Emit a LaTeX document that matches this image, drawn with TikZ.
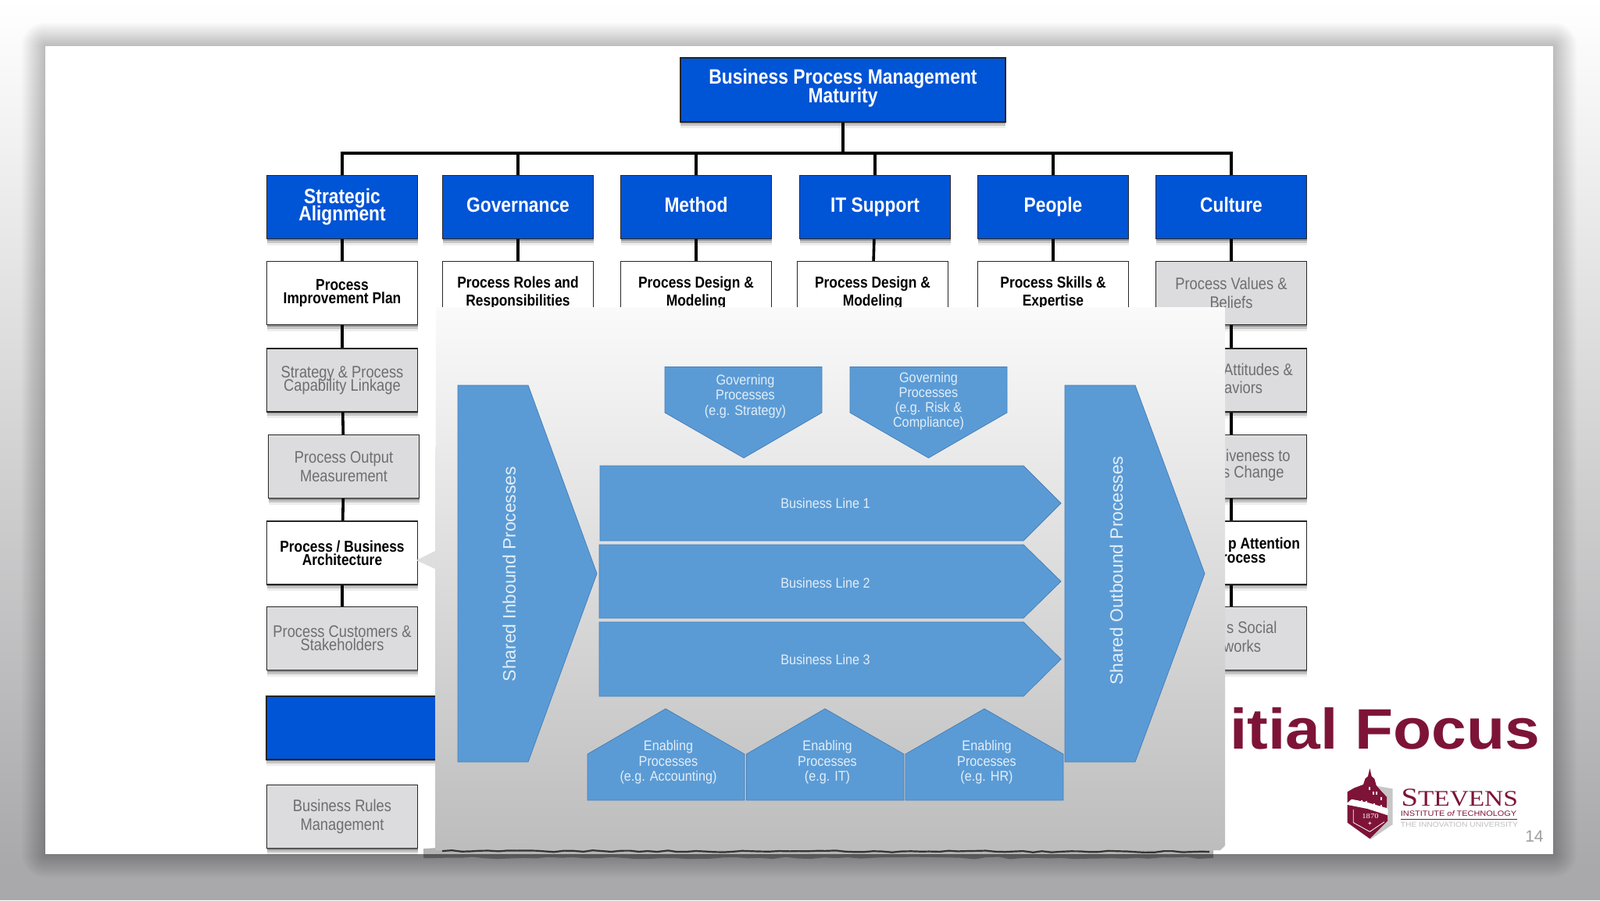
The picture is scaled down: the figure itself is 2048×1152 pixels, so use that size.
\documentclass[tikz,border=0pt]{standalone}
\usepackage{fontspec}
\usetikzlibrary{shadows,decorations.pathmorphing}
\setmainfont{Liberation Sans}
\newfontfamily\narrowfont[FakeStretch=.86]{Liberation Sans}
\newfontfamily\panelfont[FakeStretch=.9]{Liberation Sans}
\newfontfamily\focusfont[FakeStretch=1.1]{Liberation Sans}
\newfontfamily\logofont[FakeStretch=1.17]{Liberation Serif}
\newfontfamily\logosans[FakeStretch=1.14]{Liberation Sans}
\lineskiplimit=-20pt
\definecolor{boxblue}{RGB}{0,84,214}
\definecolor{shapeblue}{RGB}{91,155,213}
\definecolor{shapeedge}{RGB}{70,128,186}
\definecolor{boxgray}{RGB}{220,220,222}
\definecolor{fadedtext}{RGB}{110,110,112}
\definecolor{paneltext}{RGB}{226,238,248}
\definecolor{maroon}{RGB}{125,20,56}
\definecolor{backgray}{RGB}{169,169,171}
\tikzset{
  softshadow/.style={drop shadow={shadow xshift=0pt,shadow yshift=-2pt,fill=black,opacity=.28},
    drop shadow={shadow xshift=0pt,shadow yshift=-5pt,fill=black,opacity=.16},
    drop shadow={shadow xshift=0pt,shadow yshift=-8pt,fill=black,opacity=.07}},
  basebox/.style={draw=black!85,line width=1.4pt,minimum width=193pt,minimum height=81pt,inner sep=0pt,align=center,softshadow},
  bluebox/.style={basebox,fill=boxblue,text=white,font=\narrowfont\bfseries\fontsize{26.5}{22}\selectfont},
  oneline/.style={text height=18pt,text depth=5.5pt},
  whitebox/.style={basebox,fill=white,text=black,font=\narrowfont\bfseries\fontsize{20.2}{17}\selectfont},
  graybox/.style={basebox,fill=boxgray,text=fadedtext,font=\narrowfont\fontsize{21.3}{17}\selectfont},
  looserow/.style={font=\narrowfont\fontsize{21.3}{23.5}\selectfont},
  looserowb/.style={font=\narrowfont\bfseries\fontsize{20.2}{23.5}\selectfont},
  fragment/.style={anchor=west,inner sep=0pt,text=fadedtext,font=\narrowfont\fontsize{21.3}{20}\selectfont},
  fragmentb/.style={anchor=west,inner sep=0pt,text=black,font=\narrowfont\bfseries\fontsize{20.2}{20}\selectfont},
  link/.style={draw=black,line width=3.6pt,line cap=square},
  bluepart/.style={fill=shapeblue,draw=shapeedge,line width=.8pt},
  parttext/.style={align=center,inner sep=0pt,text=paneltext,font=\panelfont\fontsize{18}{19.5}\selectfont},
  sidetext/.style={rotate=90,inner sep=0pt,text=paneltext,font=\fontsize{22.8}{24}\selectfont}
}
\begin{document}
\begin{tikzpicture}[x=1pt,y=-1pt]
\useasboundingbox (0,0) rectangle (2048,1152);
\shade[top color=white,bottom color=backgray] (0,0) rectangle (2048,1110);
\fill[backgray] (0,1110) rectangle (2048,1152);
\foreach \s in {2,4,...,30}
  \fill[black,opacity=.017,rounded corners=\s pt] (58-\s,59-\s) rectangle (1988+\s,1093+\s);
\fill[white] (58,59) rectangle (1988,1093);

\node[bluebox,minimum width=416pt,minimum height=82pt] (bpm) at (1079,115) {};
\node[text=white,align=center,inner sep=0pt,font=\narrowfont\bfseries\fontsize{26.6}{24}\selectfont] (bpmtext) at (1079,113) {Business Process Management\\Maturity};
\coordinate (bus) at (1079,196);

\node[bluebox] (sa) at (438,265) {Strategic\\Alignment};
\node[bluebox,oneline] (gov) at (663,265) {Governance};
\node[bluebox,oneline] (meth) at (891,265) {Method};
\node[bluebox,oneline] (its) at (1120,265) {IT Support};
\node[bluebox,oneline] (ppl) at (1348,265) {People};
\node[bluebox,oneline] (cult) at (1576,265) {Culture};

\node[whitebox] (pip) at (438,375) {Process\\Improvement Plan};
\node[graybox] (spc) at (438,486.5) {Strategy \& Process\\Capability Linkage};
\node[graybox,looserow] (pom) at (440,597) {Process Output\\Measurement};
\node[whitebox] (pba) at (438,707.5) {Process / Business\\Architecture};
\node[graybox] (pcs) at (438,817) {Process Customers \&\\Stakeholders};
\node[bluebox,minimum width=299pt] (blank) at (490.5,931.5) {};
\node[graybox,looserow] (brm) at (438,1045) {Business Rules\\Management};

\node[whitebox,looserowb] (prr) at (663,375) {Process Roles and\\Responsibilities};
\node[whitebox,looserowb] (pdm) at (891,375) {Process Design \&\\Modeling};
\node[whitebox,looserowb] (pdn) at (1117,375) {Process Design \&\\Modeling};
\node[whitebox,looserowb] (pse) at (1348,375) {Process Skills \&\\Expertise};
\node[graybox,looserow] (pvb) at (1576,375) {Process Values \&\\Beliefs};

\node[graybox] (pab) at (1576,486.5) {};
\node[graybox] (rpc) at (1576,597) {};
\node[whitebox] (lap) at (1576,707.5) {};
\node[graybox] (psn) at (1576,817) {};

\draw[link] (bpm) -- (bus);
\foreach \a in {sa,gov,meth,its,ppl,cult}
  \draw[link] (\a.north) |- (bus);
\foreach \a/\b in {sa/pip,gov/prr,meth/pdm,its/pdn,ppl/pse,cult/pvb,pip/spc,spc/pom,pom/pba,pba/pcs,pvb/pab,pab/rpc,rpc/lap,lap/psn}
  \draw[link,line cap=butt] (\a) -- (\b);

\node[fragment] (attit) at (1566,473) {Attitudes \&};
\node[fragment] (behav) at (1567,496) {aviors};
\node[fragment] (respo) at (1569,582.5) {iveness to};
\node[fragment] (chang) at (1565,606) {s Change};
\node[fragmentb] (leadr) at (1572,697.5) {p Attention};
\node[fragmentb] (toprc) at (1564,715) {rocess};
\node[fragment] (socia) at (1570,803) {s Social};
\node[fragment] (netwk) at (1566,827) {works};

\node[anchor=base west,inner sep=0pt,text=maroon,font=\focusfont\bfseries\fontsize{73}{73}\selectfont] (focus) at (1574,958) {itial Focus};

% logo, in the pixels of a 3x crop
\begin{scope}[shift={(1650,880)},x=.3333pt,y=-.3333pt]
\fill[black!22] (340,378) -- (398,388) -- (398,525) -- (312,583) -- (312,562) -- (378,512) -- (380,470) -- (360,400) -- cycle;
\fill[maroon] (224,400) -- (250,385) -- (285,372) -- (292,350) -- (303,340) -- (310,310) -- (317,340) -- (328,350) -- (335,375) -- (375,420) -- (375,462) -- (300,440) -- (240,428) -- (224,442) -- cycle;
\foreach \x/\y in {258/432,275/432,295/436,325/444,352/450,320/400,332/400,350/420,305/380}
  \fill[white] (\x,\y) rectangle (\x+6,\y+12);
\fill[maroon] (224,450) -- (300,465) -- (378,490) -- (378,512) -- (310,580) -- (224,518) -- cycle;
\draw[white,line width=.8pt] (247,468) -- (247,518) -- (310,553) -- (366,515);
\node[text=white,inner sep=0pt,font=\logofont\fontsize{9}{9}\selectfont] (year) at (312,493) {1870};
\node[text=white,inner sep=0pt,font=\bfseries\fontsize{8}{8}\selectfont] (cross) at (310,522) {+};
\node[anchor=base west,inner sep=0pt,text=maroon] (stevens) at (430,453) {\logofont\fontsize{33}{33}\selectfont S\fontsize{28.5}{33}\selectfont TEVENS};
\node[anchor=west,inner sep=0pt,text=maroon,font=\logosans\fontsize{9.6}{10}\selectfont] (inst) at (428,483) {INSTITUTE {\itshape of} TECHNOLOGY};
\draw[maroon,line width=1pt] (428,505) -- (875,505);
\node[anchor=west,inner sep=0pt,text=black!25,font=\logosans\fontsize{9}{10}\selectfont] (univ) at (428,527) {THE INNOVATION UNIVERSITY};
\node[inner sep=0pt,text=black!38,font=\fontsize{21}{21}\selectfont] (pageno) at (942,570) {14};
\end{scope}

% pasted picture on top
\fill[black!13] (533,717) -- (558,704.5) -- (558,728.5) -- cycle;
\fill[black,opacity=.3,decorate,decoration={random steps,segment length=16pt,amplitude=1.5pt}] (542,1086) rectangle (1553,1098);
\shade[top color=white!98!black,bottom color=black!26] (558,393) -- (1568,393) -- (1568,1082) -- (1562,1088) -- (557,1088) -- cycle;
\draw[black!80,line width=2.2pt,decorate,decoration={random steps,segment length=12pt,amplitude=1.2pt}] (566,1089) -- (1548,1090);

\draw[bluepart] (586,493) -- (676,493) -- (764,734) -- (676,975) -- (586,975) -- cycle;
\draw[bluepart] (1363,493) -- (1453,493) -- (1542,734) -- (1453,975) -- (1363,975) -- cycle;
\draw[bluepart] (851,469.5) -- (1052,469.5) -- (1052,528) -- (952,586) -- (851,528) -- cycle;
\draw[bluepart] (1088,469.5) -- (1289,469.5) -- (1289,528) -- (1188.5,586) -- (1088,528) -- cycle;
\draw[bluepart] (768,596) -- (1310,596) -- (1358,644) -- (1310,692) -- (768,692) -- cycle;
\draw[bluepart] (767,697) -- (1310,697) -- (1358,744) -- (1310,791) -- (767,791) -- cycle;
\draw[bluepart] (767,796) -- (1310,796) -- (1358,843.5) -- (1310,891) -- (767,891) -- cycle;
\draw[bluepart] (752,965) -- (852,907) -- (953,965) -- (953,1024) -- (752,1024) -- cycle;
\draw[bluepart] (955.5,965) -- (1056,907) -- (1157,965) -- (1157,1024) -- (955.5,1024) -- cycle;
\draw[bluepart] (1159,965) -- (1260,907) -- (1361,965) -- (1361,1024) -- (1159,1024) -- cycle;

\node[sidetext] (inbound) at (651.7,734.6) {Shared Inbound Processes};
\node[sidetext] (outbound) at (1429,730) {Shared Outbound Processes};
\node[parttext] (govone) at (954,507) {Governing\\Processes\\(e.g. Strategy)};
\node[parttext,font=\panelfont\fontsize{18}{19}\selectfont] (govtwo) at (1188.5,513) {Governing\\Processes\\(e.g. Risk \&\\Compliance)};
\node[parttext] (lineone) at (1056.5,644) {Business Line 1};
\node[parttext] (linetwo) at (1056.5,746) {Business Line 2};
\node[parttext] (linethree) at (1056.5,843.7) {Business Line 3};
\node[parttext] (enabone) at (855.5,975.7) {Enabling\\Processes\\(e.g. Accounting)};
\node[parttext] (enabtwo) at (1059,975.7) {Enabling\\Processes\\(e.g. IT)};
\node[parttext] (enabthree) at (1263,975.7) {Enabling\\Processes\\(e.g. HR)};
\end{tikzpicture}
\end{document}
